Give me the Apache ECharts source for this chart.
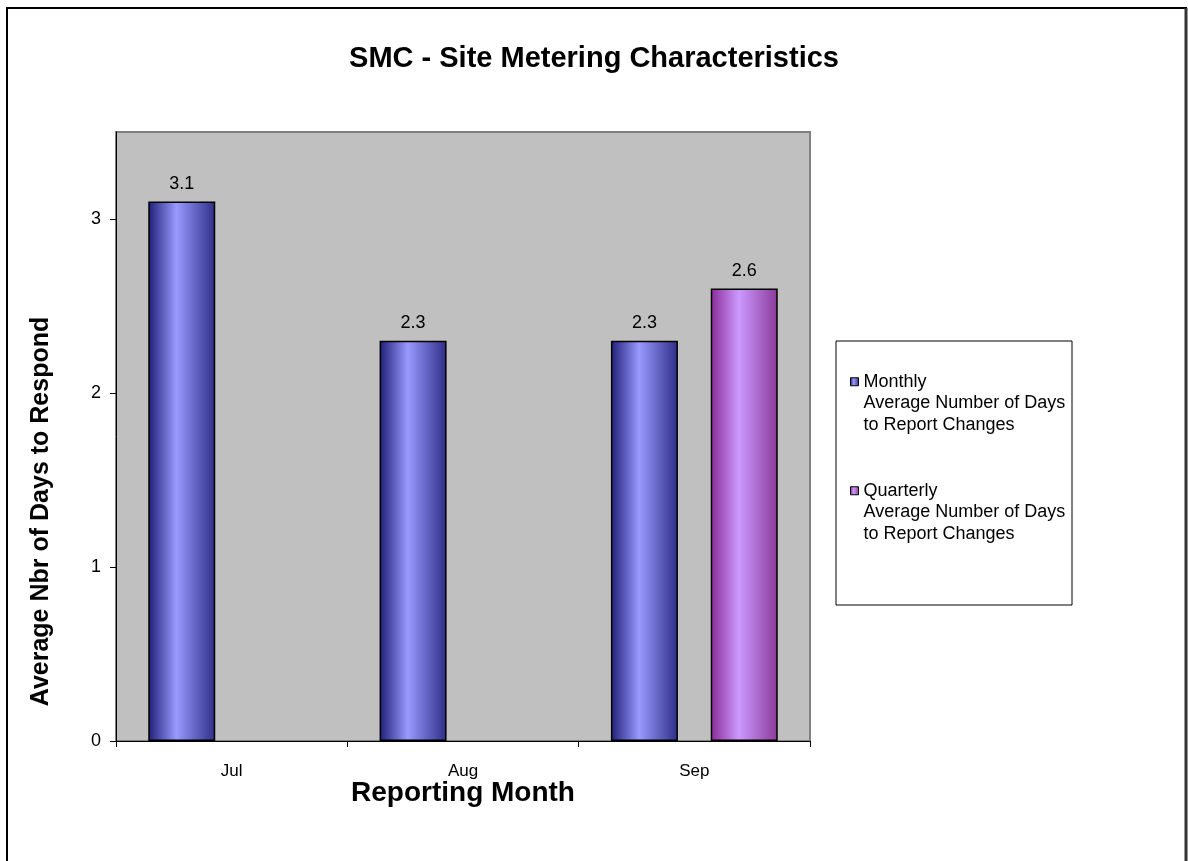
<!DOCTYPE html>
<html>
<head>
<meta charset="utf-8">
<script src="https://cdn.jsdelivr.net/npm/echarts@6/dist/echarts.min.js"></script>
<style>
html,body{margin:0;padding:0;background:#fff;}
#chart{width:1188px;height:861px;}
</style>
</head>
<body>
<div id="chart"></div>
<script>
const categories = ['Jul', 'Aug', 'Sep'];
const monthlyValues = [3.1, 2.3, 2.3];
const quarterlyValues = [null, null, 2.6];
const seriesNames = ['Monthly', 'Quarterly'];
const legendSubtitle = ['Average Number of Days', 'to Report Changes'];
const yTicks = [0, 1, 2, 3];

const FONT = '"Liberation Sans", Arial, sans-serif';

function grad(edgeL, mid, edgeR) {
  return new echarts.graphic.LinearGradient(0, 0, 1, 0, [
    { offset: 0, color: edgeL },
    { offset: 0.42, color: mid },
    { offset: 1, color: edgeR }
  ]);
}
const monthlyFill = grad('#1e1e78', '#9999ff', '#2e2e88');
const quarterlyFill = grad('#8a2a96', '#cc99ff', '#8a3a98');

function legendFormatter(name) {
  return '\n\n' + name + '\n' + legendSubtitle.join('\n');
}

const chart = echarts.init(document.getElementById('chart'), null, { renderer: 'canvas' });
chart.setOption({
  backgroundColor: '#ffffff',
  animation: false,
  title: {
    text: 'SMC - Site Metering Characteristics',
    left: 'center',
    top: 39,
    textStyle: { fontFamily: FONT, fontSize: 29, fontWeight: 'bold', color: '#000' }
  },
  graphic: [
    {
      type: 'rect', z: -10, silent: true,
      shape: { x: 7, y: 8, width: 1179, height: 900 },
      style: { fill: 'none', stroke: '#000', lineWidth: 2 }
    },
    {
      type: 'line', z: -9, silent: true,
      shape: { x1: 1186, y1: 8, x2: 1186, y2: 900 },
      style: { stroke: '#333', lineWidth: 3 }
    },
    {
      type: 'rect', z: -10, silent: true,
      shape: { x: 836, y: 341, width: 236, height: 264 },
      style: { fill: '#fff', stroke: '#000', lineWidth: 1 }
    }
  ],
  legend: [
    {
      data: [seriesNames[0]],
      left: 850, top: 328, padding: 0,
      itemWidth: 8, itemHeight: 8,
      icon: 'rect',
      itemStyle: { borderColor: '#000', borderWidth: 1 },
      formatter: legendFormatter,
      textStyle: { fontFamily: FONT, fontSize: 18, lineHeight: 21.5, color: '#000' }
    },
    {
      data: [seriesNames[1]],
      left: 850, top: 437, padding: 0,
      itemWidth: 8, itemHeight: 8,
      icon: 'rect',
      itemStyle: { borderColor: '#000', borderWidth: 1 },
      formatter: legendFormatter,
      textStyle: { fontFamily: FONT, fontSize: 18, lineHeight: 21.5, color: '#000' }
    }
  ],
  grid: {
    left: 116, top: 132, right: 378, bottom: 120,
    show: true, backgroundColor: '#c0c0c0', borderColor: '#808080', borderWidth: 2
  },
  xAxis: {
    type: 'category',
    data: categories,
    name: 'Reporting Month',
    nameLocation: 'middle',
    nameGap: 38,
    nameMoveOverlap: false,
    nameTextStyle: { fontFamily: FONT, fontSize: 28, fontWeight: 'bold', color: '#000' },
    axisLine: { show: true, lineStyle: { color: '#000', width: 1 } },
    axisTick: { show: true, length: 6, lineStyle: { color: '#000' } },
    axisLabel: { fontFamily: FONT, fontSize: 17, color: '#000', margin: 22 }
  },
  yAxis: {
    type: 'value',
    min: 0, max: 3.5, interval: 1,
    name: 'Average Nbr of Days to Respond',
    nameLocation: 'middle',
    nameGap: 62,
    nameRotate: 90,
    nameMoveOverlap: false,
    nameTextStyle: { fontFamily: FONT, fontSize: 25, fontWeight: 'bold', color: '#000', padding: [0, 150, 0, 0] },
    axisLine: { show: true, lineStyle: { color: '#000', width: 1 } },
    axisTick: { show: true, length: 6, lineStyle: { color: '#000' } },
    splitLine: { show: false },
    axisLabel: {
      fontFamily: FONT, fontSize: 18, color: '#000', margin: 15,
      showMaxLabel: false,
      formatter: function (v) { return yTicks.indexOf(v) >= 0 ? String(v) : ''; }
    }
  },
  series: [
    {
      name: seriesNames[0],
      type: 'bar',
      data: monthlyValues,
      barWidth: 67,
      barGap: '49%',
      itemStyle: { color: monthlyFill, borderColor: '#000', borderWidth: 1.5 },
      label: { show: true, position: 'top', distance: 9, fontFamily: FONT, fontSize: 18, color: '#000' }
    },
    {
      name: seriesNames[1],
      type: 'bar',
      data: quarterlyValues,
      barWidth: 67,
      barGap: '49%',
      itemStyle: { color: quarterlyFill, borderColor: '#000', borderWidth: 1.5 },
      label: { show: true, position: 'top', distance: 9, fontFamily: FONT, fontSize: 18, color: '#000' }
    }
  ]
});
</script>
</body>
</html>
